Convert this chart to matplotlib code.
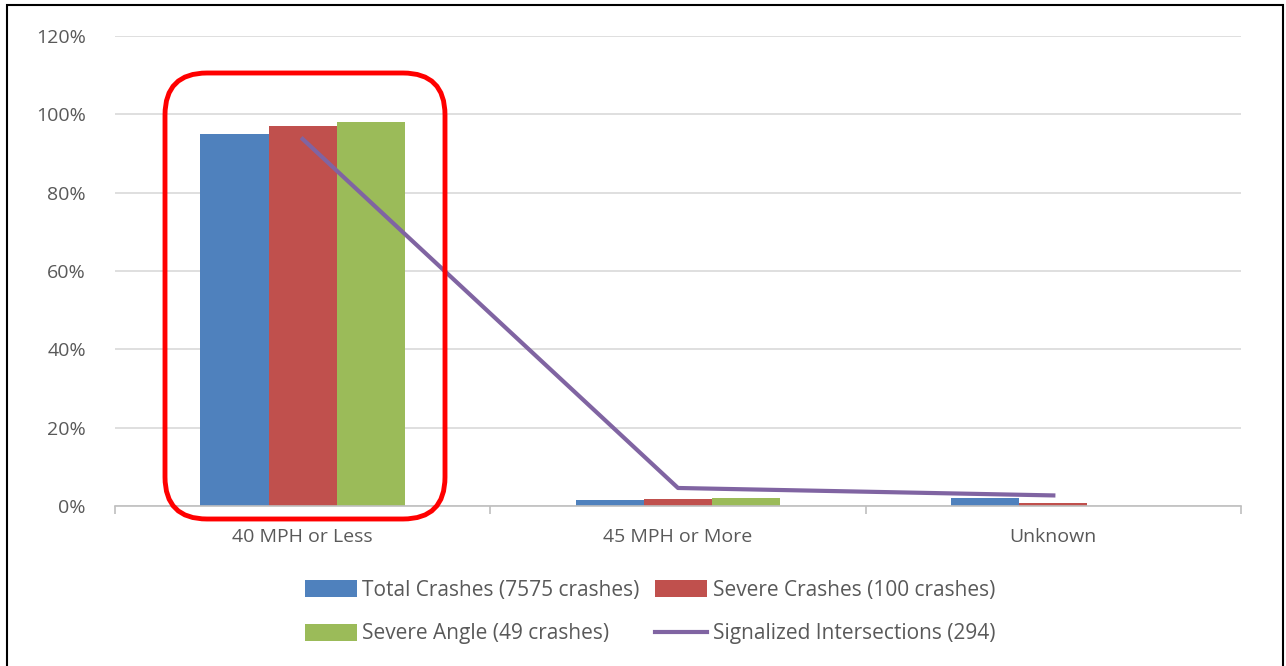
import matplotlib
matplotlib.use("Agg")
import matplotlib.pyplot as plt
import numpy as np
from matplotlib.patches import FancyBboxPatch, Rectangle
from matplotlib.transforms import IdentityTransform

plt.rcParams['font.family'] = ['Open Sans', 'DejaVu Sans']

categories = ["40 MPH or Less", "45 MPH or More", "Unknown"]
total_crashes = [95.0, 1.6, 2.1]
severe_crashes = [97.0, 1.8, 0.7]
severe_angle = [98.0, 2.0, 0.0]
signalized = [93.7, 4.6, 2.7]

series_names = ["Total Crashes (7575 crashes)", "Severe Crashes (100 crashes)",
                "Severe Angle (49 crashes)", "Signalized Intersections (294)"]
colors = ["#4F81BD", "#C0504D", "#9BBB59", "#8064A2"]

W, H = 1286, 666
fig = plt.figure(figsize=(W/100, H/100), dpi=100)
ax = fig.add_axes([115/W, 1-506/H, (1241-115)/W, (506-36)/H])

x = np.arange(len(categories))
bw = 0.182
b1 = ax.bar(x - bw, total_crashes, bw, color=colors[0], label=series_names[0], zorder=2)
b2 = ax.bar(x, severe_crashes, bw, color=colors[1], label=series_names[1], zorder=2)
b3 = ax.bar(x + bw, severe_angle, bw, color=colors[2], label=series_names[2], zorder=2)
l1, = ax.plot(x, signalized, color=colors[3], lw=3, label=series_names[3], zorder=3)

ax.set_xlim(-0.5, 2.5)
ax.set_ylim(0, 120)
ax.set_yticks(np.arange(0, 121, 20))
ax.set_yticklabels([f"{v}%" for v in range(0, 121, 20)])
ax.yaxis.grid(True, color="#D9D9D9", lw=1.2, zorder=0)
ax.set_axisbelow(True)
for s in ["top", "right", "left"]:
    ax.spines[s].set_visible(False)
ax.spines["bottom"].set_color("#BFBFBF")
ax.spines["bottom"].set_linewidth(1.2)
ax.tick_params(axis="y", length=0, labelsize=14, labelcolor="#595959", pad=21)
ax.set_xticks(x)
ax.set_xticklabels(categories)
ax.tick_params(axis="x", length=0, labelsize=14, labelcolor="#595959", pad=16)
# category boundary ticks
ax.set_xticks([-0.5, 0.5, 1.5, 2.5], minor=True)
ax.tick_params(axis="x", which="minor", length=6, color="#BFBFBF", width=1.2)

# red rounded rectangle highlight (pixel coordinates)
rr = FancyBboxPatch((165, H-519), 445-165, 519-73,
                    boxstyle="round,pad=0,rounding_size=42",
                    transform=IdentityTransform(), fill=False, edgecolor="#FF0000",
                    lw=3.5, zorder=5)
fig.add_artist(rr)

# figure border
fig.add_artist(Rectangle((7/W, -0.01), (1283-7)/W, 1-5/H + 0.01, transform=fig.transFigure,
                         fill=False, edgecolor="black", lw=1.5))

handles = [b1, b3, b2, l1]
labels = [series_names[0], series_names[2], series_names[1], series_names[3]]
leg = fig.legend(handles, labels, ncol=2, loc="center",
                 bbox_to_anchor=(650/W, 1-612/H), frameon=False,
                 fontsize=15, labelcolor="#595959", handlelength=2.5,
                 handleheight=0.85, handletextpad=0.25, columnspacing=0.75,
                 labelspacing=1.1)

fig.savefig("out.png", dpi=100)
